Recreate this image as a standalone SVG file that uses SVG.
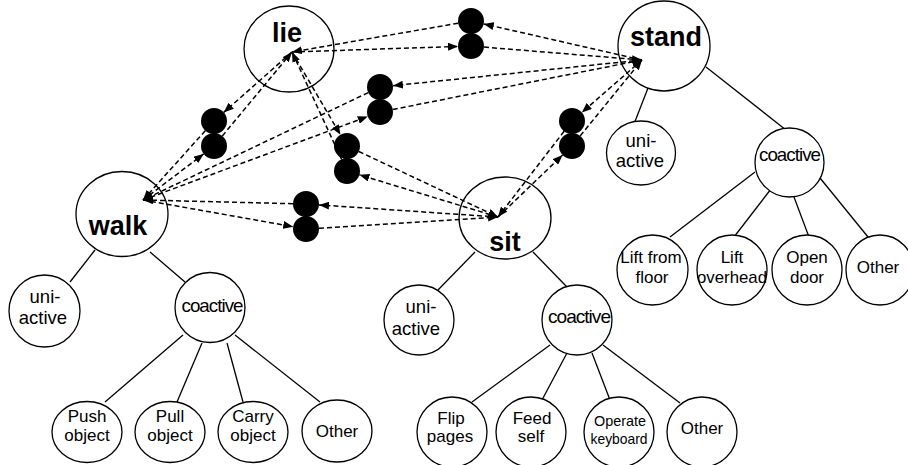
<svg xmlns="http://www.w3.org/2000/svg" width="908" height="465" viewBox="0 0 908 465">
  <style>
    .n ellipse { fill: #fff; stroke: #000; stroke-width: 1.3; }
    .t { font-family: "Liberation Sans", Arial, sans-serif; fill: #000; text-anchor: middle; }
    .big { font-size: 27px; font-weight: bold; }
    .leaf { font-size: 17px; }
    .cond { font-size: 15px; }
    .ua { font-size: 18.5px; }
    .co { font-size: 19px; letter-spacing: -1px; }
    .tree line { stroke: #000; stroke-width: 1.3; }
    .links path { stroke: #000; stroke-width: 1.5; stroke-dasharray: 5 3; fill: none; marker-end: url(#ah); }
    .dot circle { fill: #000; }
  </style>
  <defs>
    <marker id="ah" viewBox="0 0 10 8" refX="10" refY="4" markerWidth="10" markerHeight="8" markerUnits="userSpaceOnUse" orient="auto">
      <path d="M0,0 L10,4 L0,8 z" fill="#000"/>
    </marker>
  </defs>

  <!-- hierarchy edges -->
  <g class="tree">
    <!-- stand -->
    <line x1="648" y1="88" x2="634" y2="124"/>
    <line x1="706" y1="67" x2="786" y2="130"/>
    <line x1="755" y1="172" x2="670" y2="237"/>
    <line x1="771" y1="189" x2="734" y2="237"/>
    <line x1="794" y1="197" x2="809" y2="237"/>
    <line x1="820" y1="178" x2="868" y2="237"/>
    <!-- walk -->
    <line x1="95" y1="250" x2="70" y2="282"/>
    <line x1="150" y1="252" x2="185" y2="282"/>
    <line x1="183" y1="335" x2="105" y2="402"/>
    <line x1="202" y1="343" x2="177" y2="402"/>
    <line x1="227" y1="343" x2="243" y2="402"/>
    <line x1="235" y1="335" x2="320" y2="402"/>
    <!-- sit -->
    <line x1="475" y1="252" x2="438" y2="290"/>
    <line x1="533" y1="252" x2="567" y2="287"/>
    <line x1="550" y1="345" x2="472" y2="402"/>
    <line x1="567" y1="353" x2="542" y2="400"/>
    <line x1="592" y1="353" x2="610" y2="400"/>
    <line x1="603" y1="345" x2="680" y2="403"/>
  </g>

  <!-- top-level activities -->
  <g id="lie" class="n"><ellipse cx="289" cy="49" rx="45" ry="43"/><text class="t big" x="287" y="42">lie</text></g>
  <g id="walk" class="n"><ellipse cx="122" cy="214" rx="46" ry="42.5"/><text class="t big" x="118" y="235">walk</text></g>
  <g id="stand" class="n"><ellipse cx="664" cy="46" rx="46" ry="45"/><text class="t big" x="666" y="46">stand</text></g>
  <g id="sit" class="n"><ellipse cx="505" cy="218" rx="46" ry="41"/><text class="t big" x="505" y="251">sit</text></g>

  <!-- stand subtree -->
  <g id="stand-uni" class="n"><ellipse cx="641" cy="153" rx="34.5" ry="32"/><text class="t ua" x="641" y="147">uni-</text><text class="t ua" x="640" y="167">active</text></g>
  <g id="stand-co" class="n"><ellipse cx="789.5" cy="162.5" rx="34.5" ry="34.5"/><text class="t co" x="789.5" y="161" textLength="61" lengthAdjust="spacingAndGlyphs">coactive</text></g>
  <g id="stand-lift-floor" class="n"><ellipse cx="652.5" cy="270" rx="35.5" ry="35"/><text class="t leaf" x="651" y="263">Lift from</text><text class="t leaf" x="652" y="283">floor</text></g>
  <g id="stand-lift-overhead" class="n"><ellipse cx="732" cy="270" rx="35" ry="35"/><text class="t leaf" x="732" y="263">Lift</text><text class="t leaf" x="732" y="283" textLength="70" lengthAdjust="spacingAndGlyphs">overhead</text></g>
  <g id="stand-open-door" class="n"><ellipse cx="807" cy="270" rx="35" ry="35"/><text class="t leaf" x="807" y="263">Open</text><text class="t leaf" x="807" y="283">door</text></g>
  <g id="stand-other" class="n"><ellipse cx="880" cy="270" rx="34" ry="35"/><text class="t leaf" x="878" y="273">Other</text></g>

  <!-- walk subtree -->
  <g id="walk-uni" class="n"><ellipse cx="44.5" cy="311" rx="35.5" ry="36"/><text class="t ua" x="45" y="303">uni-</text><text class="t ua" x="43" y="324">active</text></g>
  <g id="walk-co" class="n"><ellipse cx="210" cy="307.5" rx="35" ry="35"/><text class="t co" x="212" y="312" textLength="61" lengthAdjust="spacingAndGlyphs">coactive</text></g>
  <g id="walk-push" class="n"><ellipse cx="87" cy="432" rx="35" ry="30.5"/><text class="t leaf" x="87" y="422">Push</text><text class="t leaf" x="87" y="441">object</text></g>
  <g id="walk-pull" class="n"><ellipse cx="170" cy="432" rx="35" ry="30.5"/><text class="t leaf" x="170" y="422">Pull</text><text class="t leaf" x="170" y="441">object</text></g>
  <g id="walk-carry" class="n"><ellipse cx="253" cy="432" rx="35" ry="30.5"/><text class="t leaf" x="253" y="422">Carry</text><text class="t leaf" x="253" y="441">object</text></g>
  <g id="walk-other" class="n"><ellipse cx="337" cy="431" rx="35" ry="31"/><text class="t leaf" x="337" y="437">Other</text></g>

  <!-- sit subtree -->
  <g id="sit-uni" class="n"><ellipse cx="419" cy="320" rx="35" ry="35"/><text class="t ua" x="421" y="313">uni-</text><text class="t ua" x="416" y="335">active</text></g>
  <g id="sit-co" class="n"><ellipse cx="577" cy="320" rx="35" ry="35"/><text class="t co" x="579" y="323" textLength="62" lengthAdjust="spacingAndGlyphs">coactive</text></g>
  <g id="sit-flip" class="n"><ellipse cx="452" cy="432" rx="35" ry="35"/><text class="t leaf" x="451" y="424">Flip</text><text class="t leaf" x="450" y="442">pages</text></g>
  <g id="sit-feed" class="n"><ellipse cx="531" cy="432" rx="35" ry="35"/><text class="t leaf" x="532" y="424">Feed</text><text class="t leaf" x="531" y="442">self</text></g>
  <g id="sit-operate" class="n"><ellipse cx="619" cy="432" rx="35" ry="35"/><text class="t cond" x="620" y="426" textLength="52" lengthAdjust="spacingAndGlyphs">Operate</text><text class="t cond" x="619" y="444" textLength="57" lengthAdjust="spacingAndGlyphs">keyboard</text></g>
  <g id="sit-other" class="n"><ellipse cx="702" cy="432" rx="35" ry="35"/><text class="t leaf" x="702" y="434">Other</text></g>

  <!-- transition connectors -->
  <g class="links">
    <!-- lie / stand -->
    <path d="M642,60 L483.7,23.9"/>
    <path d="M458.2,23.2 L292,52"/>
    <path d="M292,52 L458,46.4"/>
    <path d="M484,47.1 L642,60"/>
    <!-- walk / stand -->
    <path d="M642,60 L392.9,85.7"/>
    <path d="M368.3,92.6 L143,200"/>
    <path d="M143,200 L367.8,116.5"/>
    <path d="M392.8,109.5 L642,60"/>
    <!-- lie / sit -->
    <path d="M292,52 L340.4,134.8"/>
    <path d="M358.8,151.5 L498,217"/>
    <path d="M498,217 L359.4,174.8"/>
    <path d="M341.5,159.2 L292,52"/>
    <!-- walk / sit -->
    <path d="M498,217 L319,204.9"/>
    <path d="M293,203.7 L143,200"/>
    <path d="M143,200 L293.2,226.7"/>
    <path d="M319,228.2 L498,217"/>
    <!-- sit / stand -->
    <path d="M642,60 L581.8,112.5"/>
    <path d="M564.1,131.3 L498,217"/>
    <path d="M498,217 L562.6,155"/>
    <path d="M580.2,135.9 L642,60"/>
    <!-- lie / walk -->
    <path d="M292,52 L223.7,112.4"/>
    <path d="M205.3,130.7 L143,200"/>
    <path d="M143,200 L203.7,153.9"/>
    <path d="M222.3,136 L292,52"/>
  </g>

  <!-- transition markers -->
  <g id="t-lie-stand" class="dot"><circle cx="471" cy="21" r="13"/><circle cx="471" cy="46" r="13"/></g>
  <g id="t-walk-stand" class="dot"><circle cx="380" cy="87" r="13"/><circle cx="380" cy="112" r="13"/></g>
  <g id="t-lie-sit" class="dot"><circle cx="347" cy="146" r="13"/><circle cx="347" cy="171" r="13"/></g>
  <g id="t-walk-sit" class="dot"><circle cx="306" cy="204" r="13"/><circle cx="306" cy="229" r="13"/></g>
  <g id="t-sit-stand" class="dot"><circle cx="572" cy="121" r="13"/><circle cx="572" cy="146" r="13"/></g>
  <g id="t-lie-walk" class="dot"><circle cx="214" cy="121" r="13"/><circle cx="214" cy="146" r="13"/></g>
</svg>
